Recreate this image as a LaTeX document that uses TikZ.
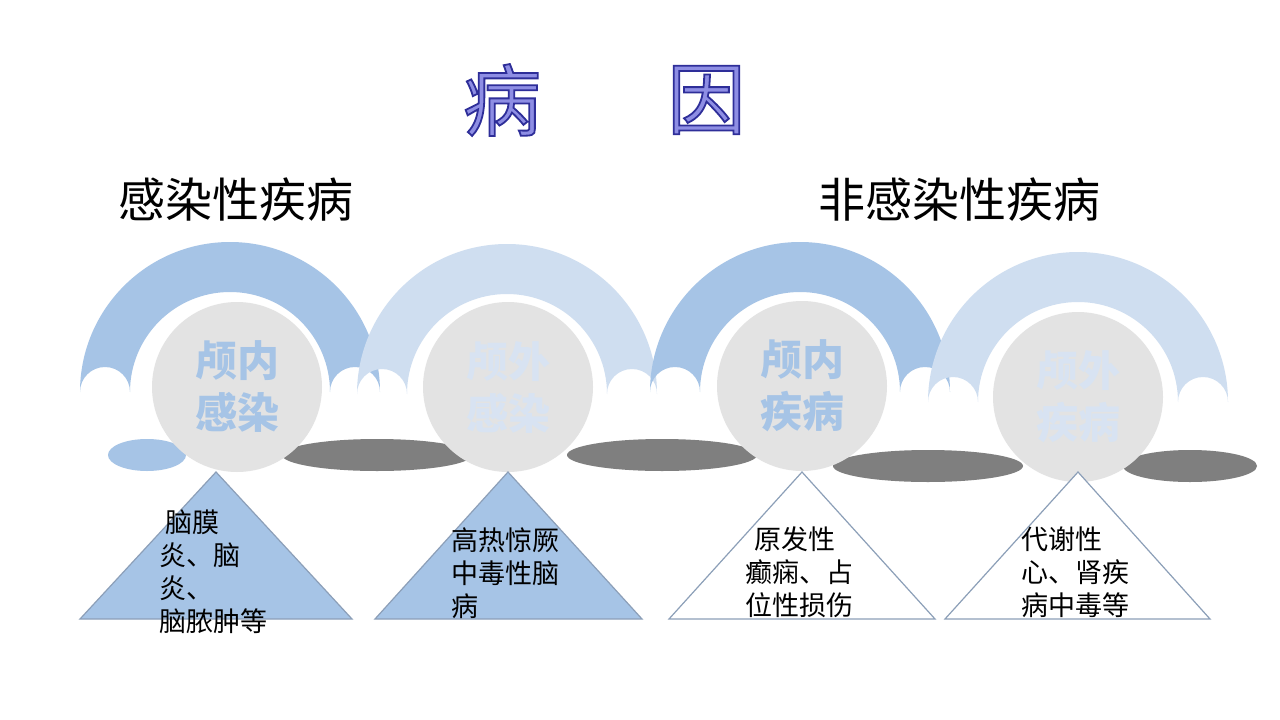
\documentclass[tikz,border=0pt]{standalone}
\usepackage{fontspec}
\setmainfont{Noto Sans CJK SC}
\usetikzlibrary{positioning}

\definecolor{bandblue}{HTML}{A6C4E6}
\definecolor{bandpale}{HTML}{CFDEF0}
\definecolor{ballgray}{HTML}{E3E3E3}
\definecolor{shadegray}{HTML}{7F7F7F}
\definecolor{triedge}{HTML}{8C9FB8}
\definecolor{titlefill}{HTML}{8E8EE4}
\definecolor{ghostblue}{HTML}{D8E3F2}

% outlined glyphs: fill with the text colour, stroke dark blue
\newcommand{\outlined}[1]{\special{pdf:literal direct 2 Tr 1.8 w 0.18 0.18 0.6 RG}#1}

% half ring with scalloped feet: colour, centre x, centre y
\newcommand{\arcband}[3]{%
  \fill[#1] (#2-150,#3) arc[start angle=180,end angle=360,radius=150]
    arc[start angle=0,end angle=-180,radius=25]
    arc[start angle=360,end angle=180,radius=100]
    arc[start angle=0,end angle=-180,radius=25] -- cycle;}

\tikzset{
  headline/.style={inner sep=0pt,font=\fontsize{78}{78}\selectfont,text=titlefill},
  heading/.style={inner sep=0pt,font=\fontsize{47}{47}\selectfont},
  ball/.style={circle,fill=ballgray,minimum size=170,inner sep=0pt,align=center,
    font=\fontsize{42}{52}\selectfont\bfseries},
  tri/.style={draw=triedge,line width=1.2pt,line join=miter},
  note/.style={inner sep=0pt,anchor=west,align=left,font=\fontsize{27}{33}\selectfont}
}

\begin{document}
\begin{tikzpicture}[x=1pt,y=-1pt]
  \useasboundingbox[fill=white] (0,0) rectangle (1280,720);

  % title
  \node[headline] (bing) at (502,100) {\outlined{病}};
  \node[headline,right=126pt of bing] (yin) {\outlined{因}};

  \node[heading] (infect) at (236,200) {感染性疾病};
  \node[heading] (noninfect) at (959,200) {非感染性疾病};

  % shadows
  \fill[bandblue] (147,455) ellipse[x radius=39,y radius=16];
  \fill[shadegray] (377,455) ellipse[x radius=95,y radius=16];
  \fill[shadegray] (662,455) ellipse[x radius=95,y radius=16];
  \fill[shadegray] (928,466) ellipse[x radius=95,y radius=16];
  \fill[shadegray] (1190,466) ellipse[x radius=67,y radius=16];

  % bands
  \arcband{bandblue}{230}{392}
  \arcband{bandpale}{507}{394}
  \arcband{bandblue}{800}{392}
  \arcband{bandpale}{1078}{402}

  % balls
  \node[ball,text=bandblue] (c1) at (237,387) {颅内\\感染};
  \node[ball,text=ghostblue] (c2) at (508,387) {颅外\\感染};
  \node[ball,text=bandblue] (c3) at (802,386) {颅内\\疾病};
  \node[ball,text=ghostblue] (c4) at (1078,397) {颅外\\疾病};

  % triangles
  \draw[tri,fill=bandblue] (216,472) -- (352,619) -- (80,619) -- cycle;
  \draw[tri,fill=bandblue] (508,472) -- (642,619) -- (375,619) -- cycle;
  \draw[tri,fill=white] (802,472) -- (935,619) -- (669,619) -- cycle;
  \draw[tri,fill=white] (1078,472) -- (1210,619) -- (945,619) -- cycle;

  \node[note] (n1) at (159,572) {\hspace*{6pt}脑膜\\炎、脑\\炎、\\脑脓肿等};
  \node[note] (n2) at (451,573) {高热惊厥\\中毒性脑\\病};
  \node[note] (n3) at (745,572) {\hspace*{9pt}原发性\\癫痫、占\\位性损伤};
  \node[note] (n4) at (1021,572) {代谢性\\心、肾疾\\病中毒等};
\end{tikzpicture}
\end{document}
